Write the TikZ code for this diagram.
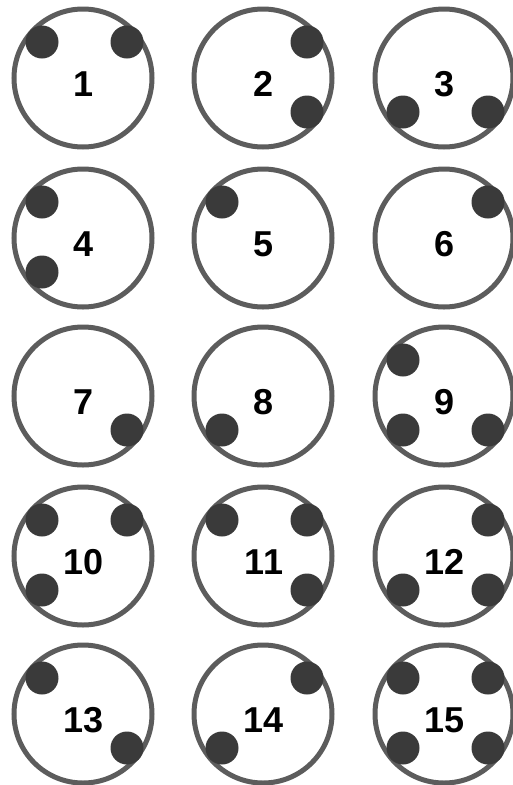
\documentclass[tikz,border=0pt]{standalone}
\usepackage{fontspec}
\setmainfont{Liberation Sans}
\definecolor{ringgray}{HTML}{5C5C5C}
\definecolor{dotgray}{HTML}{3A3A3A}
\tikzset{
  ring/.style={circle,draw=ringgray,line width=5pt,minimum size=138pt,inner sep=0pt,fill=white},
  pin/.style={circle,fill=dotgray,minimum size=33pt,inner sep=0pt},
  num/.style={font=\fontsize{36}{36}\selectfont\bfseries,inner sep=0pt}
}
\begin{document}
\begin{tikzpicture}[x=1pt,y=-1pt]
\useasboundingbox (0,0) rectangle (512,785);
\foreach \n/\cx/\cy/\dl in {
  1/83/78/{ul,ur},
  2/263/78/{ur,lr},
  3/444/78/{ll,lr},
  4/83/238/{ul,ll},
  5/263/238/{ul},
  6/444/238/{ur},
  7/83/396/{lr},
  8/263/396/{ll},
  9/444/396/{ul,ll,lr},
  10/83/556/{ul,ur,ll},
  11/263/556/{ul,ur,lr},
  12/444/556/{ur,ll,lr},
  13/83/714/{ul,lr},
  14/263/714/{ur,ll},
  15/444/714/{ul,ur,ll,lr}}{
  \node[ring] (c\n) at (\cx,\cy) {};
  \node[num] (t\n) at (\cx+1,\cy+6) {\n};
  \foreach \d/\dx/\dy in {ul/-41/-36,ur/44/-36,ll/-41/34,lr/44/34}{
    \foreach \e in \dl {
      \edef\tmpa{\d}\edef\tmpb{\e}
      \ifx\tmpa\tmpb
        \node[pin] (d\n\d) at ([shift={(\dx,\dy)}]c\n.center) {};
      \fi
    }
  }
}
\end{tikzpicture}
\end{document}
